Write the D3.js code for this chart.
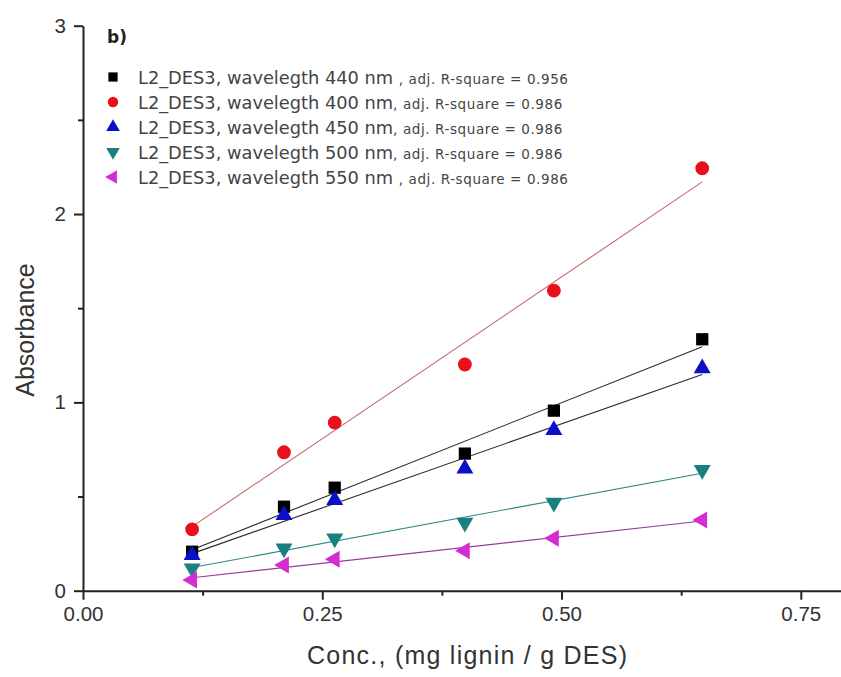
<!DOCTYPE html>
<html>
<head>
<meta charset="utf-8">
<script src="https://cdn.jsdelivr.net/npm/d3@7"></script>
<style>
  html, body { margin: 0; padding: 0; background: #fff; }
  svg { display: block; }
</style>
</head>
<body>
<svg id="chart" width="841" height="677"></svg>
<script>
// Lignin concentration (mg lignin / g DES)
const concentration = [0.114, 0.21, 0.263, 0.399, 0.492, 0.647];

// Measured absorbance per wavelength
const abs440 = [0.207, 0.446, 0.547, 0.728, 0.956, 1.335];
const abs400 = [0.326, 0.735, 0.892, 1.201, 1.593, 2.243];
const abs450 = [0.189, 0.401, 0.481, 0.648, 0.853, 1.181];
const abs500 = [0.119, 0.225, 0.278, 0.361, 0.467, 0.641];
const abs550 = [0.057, 0.137, 0.167, 0.212, 0.278, 0.376];

const seriesNames = [
  "L2_DES3, wavelegth 440 nm ",
  "L2_DES3, wavelegth 400 nm",
  "L2_DES3, wavelegth 450 nm",
  "L2_DES3, wavelegth 500 nm",
  "L2_DES3, wavelegth 550 nm "
];
const fitLabels = [
  ", adj. R-square = 0.956",
  ", adj. R-square = 0.986",
  ", adj. R-square = 0.986",
  ", adj. R-square = 0.986",
  ", adj. R-square = 0.986"
];
const xTicks = [0, 0.25, 0.5, 0.75];
const xMinorTicks = [0.125, 0.375, 0.625];
const yTicks = [0, 1, 2, 3];
const yMinorTicks = [0.5, 1.5, 2.5];

const seriesValues = [abs440, abs400, abs450, abs500, abs550];
const markerColors = ["#000000", "#e8101a", "#0a10c8", "#1a7f7f", "#d22ed2"];
const lineColors = ["#2a2a2a", "#c46868", "#2a2a2a", "#2c8a86", "#9a3a9a"];
const markerTypes = [d3.symbolSquare, d3.symbolCircle, d3.symbolTriangle, d3.symbolTriangle, d3.symbolTriangle];
const markerRotate = [0, 0, 0, 180, -90];
const markerSize = [150, 150, 125, 125, 125];
const legendSize = [85, 85, 80, 80, 80];

const svg = d3.select("#chart");

const x = d3.scaleLinear().domain([0, 0.792]).range([83, 841]);
const y = d3.scaleLinear().domain([0, 3]).range([590.7, 25.7]);

const axisColor = "#222";
const sansFont = "'Liberation Sans', Arial, sans-serif";
const legendFont = "'DejaVu Sans', Verdana, sans-serif";

// Bottom axis
svg.append("g").attr("transform", `translate(0,${y(0)})`)
  .call(d3.axisBottom(x).tickValues(xTicks).tickFormat(d3.format(".2f")).tickSize(9).tickPadding(7).tickSizeOuter(0));
svg.append("g").attr("transform", `translate(0,${y(0)})`)
  .call(d3.axisBottom(x).tickValues(xMinorTicks).tickFormat("").tickSize(5).tickSizeOuter(0))
  .select(".domain").remove();

// Left axis
svg.append("g").attr("transform", `translate(${x(0)},0)`)
  .call(d3.axisLeft(y).tickValues(yTicks).tickFormat(d3.format("d")).tickSize(9).tickPadding(8).tickSizeOuter(0));
svg.append("g").attr("transform", `translate(${x(0)},0)`)
  .call(d3.axisLeft(y).tickValues(yMinorTicks).tickFormat("").tickSize(5).tickSizeOuter(0))
  .select(".domain").remove();

svg.selectAll(".domain, .tick line").attr("stroke", axisColor).attr("stroke-width", 2);
svg.selectAll(".tick text").attr("fill", "#333").style("font-family", sansFont).style("font-size", "20.5px");

// Axis titles
svg.append("text")
  .attr("x", 467).attr("y", 664)
  .attr("text-anchor", "middle")
  .attr("textLength", 320).attr("lengthAdjust", "spacing")
  .style("font-family", sansFont).style("font-size", "25px").attr("fill", "#333")
  .text("Conc., (mg lignin / g DES)");

svg.append("text")
  .attr("transform", "translate(34,330) rotate(-90)")
  .attr("text-anchor", "middle")
  .style("font-family", sansFont).style("font-size", "25px").attr("fill", "#333")
  .text("Absorbance");

// Panel label
svg.append("text")
  .attr("x", 107).attr("y", 43)
  .style("font-family", legendFont).style("font-size", "17px").style("font-weight", "bold")
  .attr("fill", "#222")
  .text("b)");

// Least-squares fit lines across the measured range
function linearFit(xs, ys) {
  const mx = d3.mean(xs), my = d3.mean(ys);
  const sxy = d3.sum(xs, (v, i) => (v - mx) * (ys[i] - my));
  const sxx = d3.sum(xs, v => (v - mx) * (v - mx));
  const slope = sxy / sxx;
  return v => my + slope * (v - mx);
}

const plot = svg.append("g");
const xExtent = d3.extent(concentration);
seriesValues.forEach((vals, i) => {
  const f = linearFit(concentration, vals);
  plot.append("line")
    .attr("x1", x(xExtent[0])).attr("y1", y(f(xExtent[0])))
    .attr("x2", x(xExtent[1])).attr("y2", y(f(xExtent[1])))
    .attr("stroke", lineColors[i]).attr("stroke-width", 1.1);
});

// Markers
seriesValues.forEach((vals, i) => {
  const sym = d3.symbol().type(markerTypes[i]).size(markerSize[i]);
  plot.append("g").selectAll("path")
    .data(vals.map((v, j) => [concentration[j], v]))
    .join("path")
    .attr("d", sym)
    .attr("transform", d => `translate(${x(d[0])},${y(d[1])}) rotate(${markerRotate[i]})`)
    .attr("fill", markerColors[i]);
});

// Legend
const legend = svg.append("g");
const rowY = d3.range(5).map(i => 77 + i * 25);
seriesNames.forEach((name, i) => {
  legend.append("path")
    .attr("d", d3.symbol().type(markerTypes[i]).size(legendSize[i]))
    .attr("transform", `translate(113,${rowY[i]}) rotate(${markerRotate[i]})`)
    .attr("fill", markerColors[i]);
  const t = legend.append("text")
    .attr("x", 138).attr("y", rowY[i] + 6.5)
    .attr("fill", "#444");
  t.append("tspan")
    .style("font-family", legendFont).style("font-size", "17.8px")
    .text(name);
  t.append("tspan")
    .style("font-family", legendFont).style("font-size", "13.5px")
    .style("letter-spacing", "0.6px")
    .text(fitLabels[i]);
});
</script>
</body>
</html>
